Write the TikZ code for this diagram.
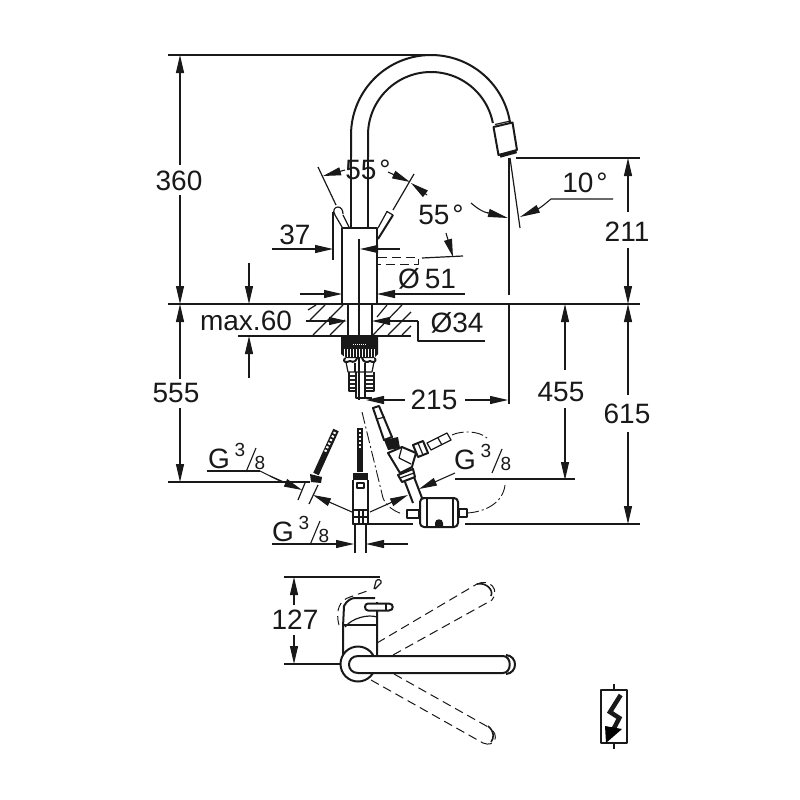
\documentclass[tikz,border=0pt]{standalone}
\usepackage{fontspec}
\setmainfont{Liberation Sans}
\usetikzlibrary{arrows.meta}
\tikzset{
  base/.style={line width=1.2pt,line cap=butt,line join=round,color=black!90},
  dim/.style={base,line width=1.1pt},
  thick2/.style={base,line width=2pt},
  ar/.style={dim,-{Triangle[length=18pt,width=8pt]}},
  lab/.style={font=\fontsize{28}{28}\selectfont,inner sep=0pt,text=black!90},
  small/.style={font=\fontsize{19}{19}\selectfont,inner sep=0pt,text=black!90},
  dsh/.style={base,line width=1pt,dash pattern=on 9pt off 5pt},
  dshdot/.style={base,line width=0.9pt,dash pattern=on 12pt off 3pt on 2pt off 3pt},
  hoseb/.style={base,line width=6pt},
  hosew/.style={white,line width=2.4pt,dash pattern=on 2pt off 2pt},
}
\newcommand{\gthree}[3]{%
  \node[lab] (#3g) at (#1,#2) {G};
  \node[small] (#3a) at (#1+21,#2-9) {3};
  \node[small] (#3b) at (#1+41,#2+4) {8};
  \draw[dim] (#1+37,#2-11) -- (#1+27,#2+13);
}
\begin{document}
\begin{tikzpicture}[x=1pt,y=-1pt]
\useasboundingbox (0,0) rectangle (800,800);
\fill[white] (0,0) rectangle (800,800);

% --- spout
\draw[thick2] (351,157) -- (351,135) plot[domain=180:8.5,samples=60] ({431+80*cos(\x)},{135-80*sin(\x)});
\draw[thick2] (368,157) -- (368,135) plot[domain=180:11,samples=60] ({431+63*cos(\x)},{135-63*sin(\x)});
\draw[base] (495,124.5) -- (510.5,121);
\draw[thick2] (493.5,127) -- (498.5,155) -- (517,150) -- (512.5,122.5) -- cycle;
\draw[base,line width=3.5pt] (500,156) -- (516.5,151.5);

% --- body
\draw[thick2] (351,157) -- (351,228) (368,157) -- (368,228);
\draw[thick2] (342,304) -- (342,228) -- (377,228) -- (377,304);
\draw[base] (359,239) -- (359,304);

% --- levers on body
\draw[base] (342,227) -- (335,215) .. controls (332,210) and (335,207) .. (338,207) .. controls (341,207) and (343,210) .. (343,214);
\draw[base] (343,215) -- (349,227);
\draw[thick2] (378,239) -- (393,215);
\draw[base] (378,228) -- (387,211.5) -- (393,215);
\draw[base] (318,167) -- (336,205);
\draw[base] (414,174) -- (393,210);
\draw[dsh] (378,257) -- (418,257) -- (418,264) -- (378,264);
\draw[base] (422,258) -- (463,256);

% --- plate
\draw[thick2] (168,304) -- (411,304);
\draw[base] (411,304) -- (640,304);
\draw[thick2] (238,335.5) -- (411,335.5);
\foreach \a/\b/\c/\d in {308/310/316/305,313/335/343/305,330/335/345/320,310/320/325/305,
  377/317/387/305,373/335/402/305,388/335/411/312,402/335/411/326}
  \draw[base] (\a,\b) -- (\c,\d);
\fill[white] (345,305) rectangle (373,335);
\draw[thick2] (348,304) -- (348,335) (372,304) -- (372,335);
\draw[base] (359,304) -- (359,335);

% --- nut and connection
\fill[black!90] (341,335) -- (378,335) -- (378,354) -- (374,358) -- (346,358) -- (341,354) -- cycle;
\foreach \x in {344,347,...,375} \draw[white,line width=0.7pt] (\x,349) -- (\x,357);
\draw[white,line width=0.6pt,dash pattern=on 1pt off 1pt] (353,344) -- (367,344);
\draw[thick2] (345,358) .. controls (342,362) and (346,363) .. (350,361) .. controls (354,363) and (356,361) .. (357,358);
\draw[thick2] (362,358) .. controls (363,362) and (367,363) .. (370,361) .. controls (373,363) and (377,362) .. (375,358);
\draw[base] (346,362) -- (348,372) -- (372,372) -- (374,362);
\draw[base] (355,363) -- (355,372) (365,363) -- (365,372) (359,358) -- (359,400);
\draw[base] (349,372) -- (349,391) -- (356,391) -- (356,372);
\draw[base] (365,372) -- (365,391) -- (374,391) -- (374,372);
\foreach \y in {375,379,...,389} {\fill[black!85] (350,\y) rectangle (355,\y+2.4); \fill[black!85] (366,\y) rectangle (373,\y+2.4);}
\draw[base] (356,391) -- (356,398) -- (372,398);
\draw[base] (365,391) -- (365,398);

% --- centre line and 10 deg
\draw[base] (509,158) -- (509,295) (509,304) -- (509,404);
\draw[base] (510,158) -- (520,228);
\draw[dim] (471,203) .. controls (478,209) and (483,212) .. (488,213);
\draw[dim,-{Triangle[length=20pt,width=8pt]}] (487,212.5) -- (508,218);
\draw[dim] (613,199) -- (551,199) .. controls (546,203) and (543,206) .. (538,209);
\draw[dim,-{Triangle[length=20pt,width=8pt]}] (539,208.5) -- (520,217);
\node[lab] (t10) at (585,183) {10\hspace{3pt}°};

% --- dimensions left
\draw[dim] (168,55) -- (431,55);
\draw[ar] (180,165) -- (180,55);
\draw[ar] (180,195) -- (180,304);
\node[lab] (t360) at (179,181) {360};
\draw[ar] (180,379) -- (180,304);
\draw[ar] (180,408) -- (180,482);
\node[lab] (t555) at (176,393) {555};
\draw[dim] (168,482) -- (310,482);

% --- max.60
\draw[ar] (249,263) -- (249,304);
\draw[ar] (249,378) -- (249,336);
\node[lab] (tmax) at (246,321) {max.60};

% --- Ø51, Ø34, 37
\draw[ar] (300,294) -- (342,294);
\draw[ar] (465,294) -- (377,294);
\node[lab] (t51) at (427,279) {Ø\hspace{5pt}51};
\draw[ar] (306,321) -- (347,321);
\draw[ar] (418,321) -- (372,321);
\draw[dim] (418,321) -- (418,341) -- (485,341);
\node[lab] (t34) at (457,323) {Ø34};
\draw[ar] (272,249) -- (333,249);
\draw[dim] (333,212) -- (333,260);
\draw[ar] (400,249) -- (360,249);
\node[lab] (t37) at (295,235) {37};
\draw[ar] (446,233) -- (453,257);

% --- 55 deg
\node[lab] (t55a) at (368,170) {55\hspace{3pt}°};
\node[lab] (t55b) at (441,215) {55\hspace{3pt}°};
\draw[ar] (345,170) -- (323,176);
\draw[ar] (388,172) -- (410,182);
\draw[ar] (427,195) -- (411,183);

% --- right dimensions
\draw[dim] (516,158) -- (640,158);
\draw[ar] (628,212) -- (628,158);
\draw[ar] (628,248) -- (628,304);
\node[lab] (t211) at (627,232) {211};
\draw[ar] (628,395) -- (628,304);
\draw[ar] (628,432) -- (628,524);
\node[lab] (t615) at (627,414) {615};
\draw[dim] (368,524) -- (413,524) (465,524) -- (640,524);
\draw[ar] (565,370) -- (565,304);
\draw[ar] (565,408) -- (565,480);
\node[lab] (t455) at (561,392) {455};
\draw[ar] (405,400) -- (366,400);
\draw[ar] (465,400) -- (508,400);
\node[lab] (t215) at (434,400) {215};

% --- left hose
\draw[hoseb] (336,430) -- (316,474);
\draw[hosew] (335,432) -- (325,452);
\fill[black!90] (310,474) -- (322,477) -- (321,483) -- (311,482) -- cycle;
\draw[base] (305,483) -- (298,500) (318,485) -- (309,504);
% --- centre hose
\draw[hoseb] (360,428) -- (360,472);
\draw[hosew] (360,430) -- (360,449);
\fill[black!90] (353,473) rectangle (368,480);
\draw[thick2] (353,480) -- (353,524) -- (368,524) -- (368,480);
\draw[base] (357,483) rectangle (364,488);
\draw[thick2] (353,510) rectangle (368,524);
\draw[base] (353,517) -- (368,517) (359,510) -- (359,524) (363,510) -- (363,524);
\draw[base] (355,524) -- (355,553) (366,524) -- (366,553);

% --- dash-dot inlet
\draw[dshdot] (362,412) -- (383,498) .. controls (386,506) and (395,512) .. (403,514);

% --- mixing valve
\draw[thick2] (373,408) -- (379,406) -- (392,437) -- (384,440) -- cycle;
\draw[base] (377,419) -- (385,417);
\fill[black!90] (384,440) -- (398,437) -- (400,448) -- (388,450) -- cycle;
\draw[thick2] (388,453) -- (402,447) -- (416,453) -- (413,463) -- (412,467) -- (400,473) -- cycle;
\draw[base] (399,458) -- (411,464) (402,447) -- (399,458);
\draw[thick2] (398,475) -- (413,469) -- (415,477) -- (402,482) -- cycle;
\draw[base] (400,478) -- (414,473);
\draw[thick2] (405,482) -- (413,503) (414,477) -- (422,498);
\draw[thick2] (413,445) -- (423,441) -- (428,453) -- (418,457) -- cycle;
\draw[base] (418,443) -- (423,455);
\draw[base] (427,443) -- (447,433) -- (451,440) -- (431,450) -- cycle;
\draw[base] (438,438) -- (442,445);
\draw[dshdot] (452,435) .. controls (460,431) and (478,430) .. (487,438);

% --- bypass box
\draw[thick2,rounded corners=4pt] (420,498) -- (458,498) -- (458,527) -- (420,527) -- cycle;
\draw[base] (427,499) -- (427,526) (453,499) -- (453,526);
\draw[base] (407,510) rectangle (419,518);
\draw[base] (459,509) rectangle (467,517);
\fill[black!90] (435,527) -- (435,523) .. controls (435,518) and (443,518) .. (443,523) -- (443,527) -- cycle;
\draw[dshdot] (467,513) .. controls (485,512) and (503,503) .. (505,485);

% --- G 3/8 leaders
\draw[dim] (207,471) -- (260,471);
\draw[dim] (260,471) -- (280,481);
\draw[ar] (270,476) -- (302,490);
\draw[ar] (352,512) -- (313,495);
\draw[ar] (370,512) -- (408,495);
\draw[ar] (455,473) -- (419,489);
\draw[dim] (455,479) -- (575,479);
\draw[ar] (272,544) -- (354,544);
\draw[ar] (408,544) -- (366,544);
\gthree{219}{459}{gl}
\gthree{283}{532}{gb}
\gthree{465}{460}{gr}

% --- lower view
\draw[dim] (284,577) -- (380,577);
\draw[dim] (284,664) -- (342,664);
\draw[ar] (294,605) -- (294,577);
\draw[ar] (294,635) -- (294,664);
\node[lab] (t127) at (295,620) {127};
\draw[thick2] (343,664) -- (343,627) (377,664) -- (377,602) (343,627) -- (344,606) .. controls (347,600) and (352,598) .. (355,598) -- (375,598);
\draw[base] (345,627) .. controls (352,618) and (368,614) .. (377,617);
\draw[base] (344,625) -- (377,625);
\draw[thick2,fill=white] (368,603.5) -- (389,603.5) .. controls (394,603.5) and (394,610.5) .. (389,610.5) -- (368,610.5) .. controls (364,610.5) and (364,603.5) .. (368,603.5) -- cycle;
\draw[base] (386,604) -- (386,610);
\fill[white] (358,664) circle (17.5);
\draw[thick2] (358,664) circle (17.5);
\fill[white] (355,656) rectangle (503,673);
\draw[thick2] (503,656) -- (358,656) .. controls (346,656) and (346,673) .. (358,673) -- (503,673) .. controls (512,673) and (512,656) .. (503,656);
\draw[thick2] (506,655) .. controls (518,656) and (518,673) .. (506,674);
% dashed positions
\draw[dsh] (377,643) -- (477,584);
\draw[dsh] (393,655) -- (492,600);
\draw[dsh] (477,584) .. controls (490,578) and (500,590) .. (492,600);
\draw[base,line width=1.6pt] (477,584) .. controls (486,582) and (494,590) .. (491,596);
\draw[dsh] (371,680) -- (483,743);
\draw[dsh] (394,674) -- (490,728);
\draw[dsh] (483,743) .. controls (495,748) and (500,735) .. (490,728);
\draw[base,line width=1.6pt] (488,726) .. controls (495,732) and (494,738) .. (491,742);
\draw[dsh] (339,625) .. controls (335,610) and (340,600) .. (350,597) -- (370,590);
\draw[base] (374,589) -- (376,581) .. controls (378,578) and (382,580) .. (381,583) -- (375,589);

% --- symbol
\draw[thick2] (601,690) rectangle (627,743);
\draw[base] (614,684) -- (614,690) (614,743) -- (614,749);
\draw[base,line width=4.5pt,line join=miter] (620.7,695) -- (610,712) -- (619.3,718) -- (612,732);
\fill[black] (605,726) -- (622,729) -- (606,743) -- cycle;
\end{tikzpicture}
\end{document}
